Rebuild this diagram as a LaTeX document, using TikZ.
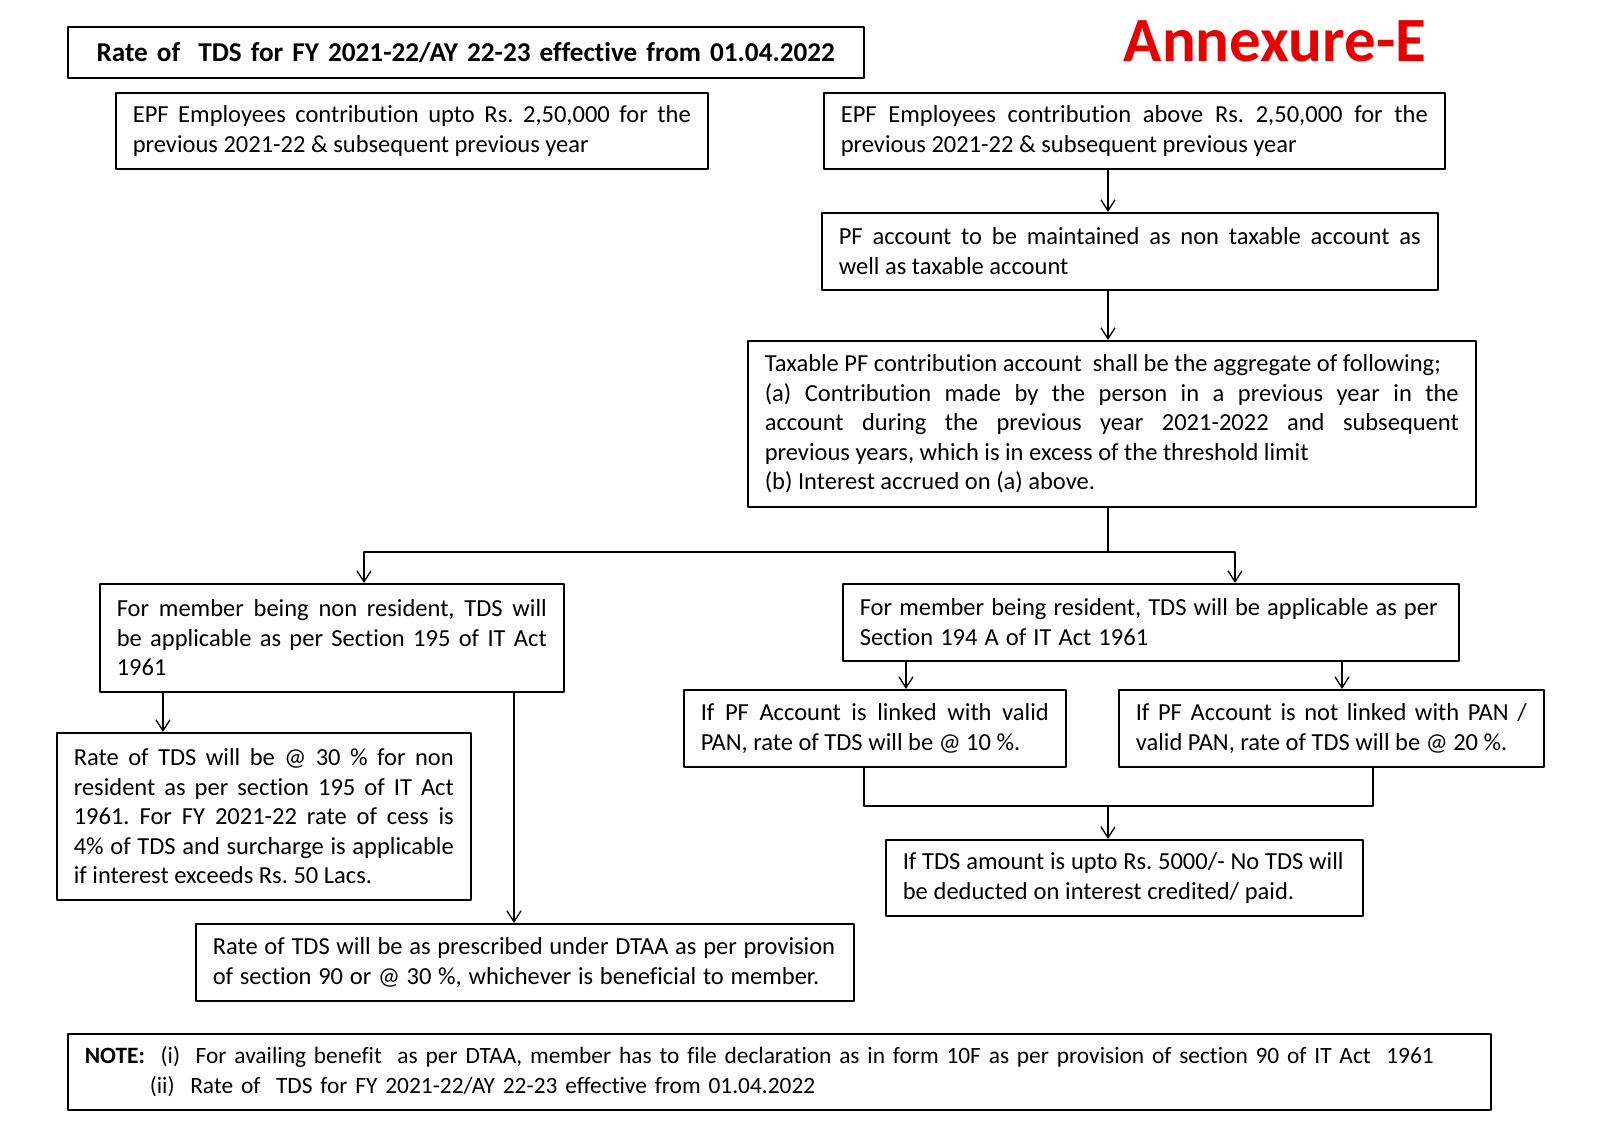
\documentclass[tikz,border=0pt]{standalone}
\usepackage{fontspec}
\setmainfont{Carlito}[Ligatures=NoCommon]
\usetikzlibrary{arrows.meta}
\definecolor{annexred}{RGB}{230,0,0}
\newcommand\boxfont{\fontsize{24.5}{29.6}\selectfont}
\newcommand\tightspaces[1]{\spaceskip=#1\relax}
\frenchspacing

\begin{document}
\begin{tikzpicture}[x=1pt, y=-1pt, line join=round, >={Straight Barb[length=11pt,width=14pt]},
  box/.style={draw, line width=1.6pt, anchor=north west, inner xsep=17pt, inner ysep=0pt, align=justify, font=\boxfont},
  plainbox/.style={box, align=left},
  link/.style={->, line width=1.3pt}]
\useasboundingbox (0,0) rectangle (1600,1131);
\def\mainx{1108}
% heading
\node[box, align=center, font=\bfseries\fontsize{27.2}{33}\selectfont, text width=762pt, minimum height=51pt] (title) at (67,26) {Rate of\ \ TDS for FY 2021-22/AY 22-23 effective from 01.04.2022};
\node[text=annexred, font=\bfseries\fontsize{63}{70}\selectfont] (annex) at (1275,41) {Annexure-E};
% top row
\node[box, text width=558pt, minimum height=76pt] (upto) at (115,92) {EPF Employees contribution upto Rs. 2,50,000 for the\linebreak previous 2021-22 \& subsequent previous year};
\node[box, text width=587pt, minimum height=76pt] (above) at (823,92) {EPF Employees contribution above Rs. 2,50,000 for the\linebreak previous 2021-22 \& subsequent previous year};
\node[box, text width=582pt, minimum height=77pt] (pfacc) at (821,212) {PF account to be maintained as non taxable account as\linebreak well as taxable account};
\node[box, text width=694pt, minimum height=166pt] (taxable) at (747,340) {Taxable PF contribution account\ \ shall be the aggregate of following;\\(a) Contribution made by the person in a previous year in the\linebreak account during the previous year 2021-2022 and subsequent\linebreak previous years, which is in excess of the threshold limit\\(b) Interest accrued on (a) above.};
% non resident side
\node[box, text width=430pt, minimum height=108pt] (nonres) at (99,583) {For member being non resident, TDS will\linebreak be applicable as per Section 195 of IT Act\linebreak 1961};
\node[box, text width=380pt, minimum height=167pt] (rate30) at (56,732) {Rate of TDS will be @ 30 \% for non\linebreak resident as per section 195 of IT Act\linebreak 1961. For FY 2021-22 rate of cess is\linebreak 4\% of TDS and surcharge is applicable\linebreak if interest exceeds Rs. 50 Lacs.};
\node[plainbox, text width=624pt, minimum height=77pt] (dtaa) at (195,923) {\tightspaces{6.7pt}\mbox{Rate of TDS will be as prescribed under DTAA as per provision}\\\mbox{of section 90 or @ 30 \%, whichever is beneficial to member.}};
% resident side
\node[plainbox, text width=582pt, minimum height=77pt] (res) at (842,583) {\tightspaces{7.1pt}\mbox{For member being resident, TDS will be applicable as per}\\\mbox{Section 194 A of IT Act 1961}};
\node[box, text width=348pt, minimum height=77pt] (linked) at (683,689) {If PF Account is linked with valid\linebreak PAN, rate of TDS will be @ 10 \%.};
\node[box, text width=391pt, minimum height=77pt] (notlinked) at (1118,689) {If PF Account is not linked with PAN /\linebreak valid PAN, rate of TDS will be @ 20 \%.};
\node[plainbox, text width=443pt, minimum height=76pt] (upto5k) at (885,839) {\tightspaces{5.8pt}\mbox{If TDS amount is upto Rs. 5000/- No TDS will}\\\mbox{be deducted on interest credited/ paid.}};
% note
\node[box, align=left, text width=1389pt, minimum height=76pt, font=\fontsize{23.4}{29.6}\selectfont] (note) at (67,1033) {\mbox{\textbf{NOTE:}\ \ (i)\ \ For availing benefit\ \ as per DTAA, member has to file declaration as in form 10F as per provision of section 90 of IT Act\ \ 1961}\\\hspace*{65pt}(ii)\ \ Rate of\ \ TDS for FY 2021-22/AY 22-23 effective from 01.04.2022};
% connectors
\coordinate (fork) at (\mainx,552);
\coordinate (join) at (\mainx,806);
\draw[link] (\mainx,0 |- above.south) -- (\mainx,0 |- pfacc.north);
\draw[link] (\mainx,0 |- pfacc.south) -- (\mainx,0 |- taxable.north);
\draw[line width=1.3pt] (\mainx,0 |- taxable.south) -- (fork);
\draw[link] (fork) -| (364,0 |- nonres.north);
\draw[link] (fork) -| (1235,0 |- res.north);
\draw[link] (163,0 |- nonres.south) -- (163,0 |- rate30.north);
\draw[link] (514,0 |- nonres.south) -- (514,0 |- dtaa.north);
\draw[link] (906,0 |- res.south) -- (906,0 |- linked.north);
\draw[link] (1342,0 |- res.south) -- (1342,0 |- notlinked.north);
\draw[line width=1.3pt] (864,0 |- linked.south) |- (join) -| (1373,0 |- notlinked.south);
\draw[link] (join) -- (\mainx,0 |- upto5k.north);
\end{tikzpicture}
\end{document}
